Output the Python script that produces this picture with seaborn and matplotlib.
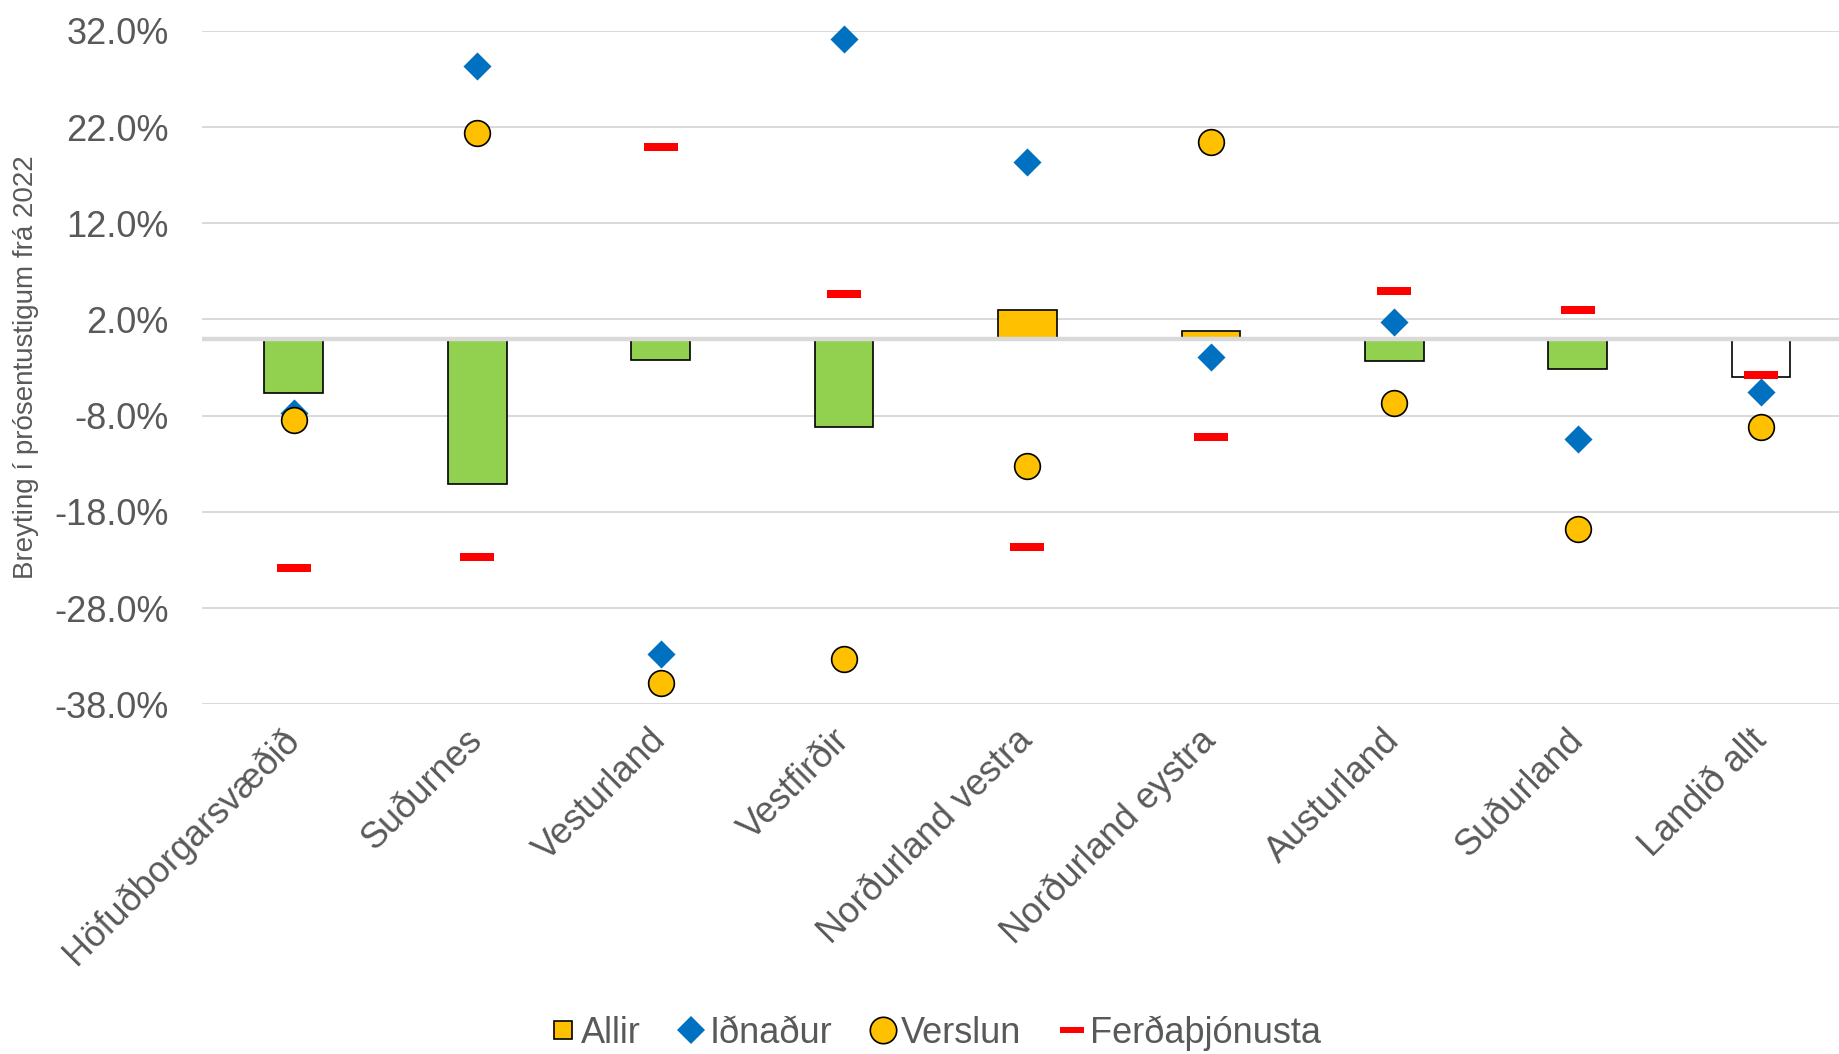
import numpy as np
import matplotlib
matplotlib.use('Agg')
import matplotlib.pyplot as plt
import seaborn as sns
from matplotlib.lines import Line2D

# Data (percentage points change from 2022)
regions = ['Höfuðborgarsvæðið', 'Suðurnes', 'Vesturland', 'Vestfirðir',
           'Norðurland vestra', 'Norðurland eystra', 'Austurland', 'Suðurland',
           'Landið allt']
allir = [-5.6, -15.1, -2.2, -9.2, 3.0, 0.8, -2.3, -3.1, -4.0]
idnadur = [-7.7, 28.3, -32.8, 31.2, 18.4, -1.9, 1.7, -10.4, -5.5]
verslun = [-8.4, 21.4, -35.8, -33.3, -13.2, 20.5, -6.7, -19.8, -9.2]
ferdathjonusta = [-23.8, -22.7, 19.9, 4.6, -21.6, -10.2, 5.0, 3.0, -3.8]
series_names = ['Allir', 'Iðnaður', 'Verslun', 'Ferðaþjónusta']
y_ticks = [-38, -28, -18, -8, 2, 12, 22, 32]

GREEN = '#92D050'
YELLOW = '#FFC000'
BLUE = '#0070C0'
RED = '#FF0000'
GREY_TXT = '#595959'
GRID = '#D9D9D9'

bar_colors = [GREEN, GREEN, GREEN, GREEN, YELLOW, YELLOW, GREEN, GREEN, 'white']

sns.set_style('white')
plt.rcParams['font.family'] = ['Liberation Sans', 'DejaVu Sans']

fig = plt.figure(figsize=(18.4, 10.54), dpi=100)
ax = fig.add_axes([0.1098, 0.3318, 0.8902, 0.6389])

# bars
sns.barplot(x=regions, y=allir, hue=regions, palette=bar_colors, legend=False,
            saturation=1, width=0.32, edgecolor='black', linewidth=1.2,
            ax=ax, zorder=2)

# dash marker as a filled flat rectangle
dash = [(-1, -0.25), (1, -0.25), (1, 0.25), (-1, 0.25)]
sns.stripplot(x=regions, y=idnadur, jitter=False, marker='D', size=14.3,
              color=BLUE, linewidth=0, ax=ax, zorder=4, clip_on=False)
sns.stripplot(x=regions, y=verslun, jitter=False, marker='o', size=18.5,
              color=YELLOW, edgecolor='black', linewidth=1.2, ax=ax, zorder=5,
              clip_on=False)
sns.stripplot(x=regions, y=ferdathjonusta, jitter=False, marker=dash, size=24.5,
              color=RED, linewidth=0, ax=ax, zorder=6, clip_on=False)

# zero line
ax.axhline(0, color=GRID, lw=3.2, zorder=3)

ax.set_ylim(-38, 32)
ax.set_xlim(-0.5, 8.43)
ax.set_yticks(y_ticks)
ax.set_yticklabels([f'{v:.1f}%' for v in y_ticks], fontsize=26, color=GREY_TXT)
ax.yaxis.grid(True, color=GRID, lw=1.4, zorder=0)
ax.set_axisbelow(True)
for s in ax.spines.values():
    s.set_visible(False)
ax.tick_params(axis='y', length=0, pad=24)
ax.tick_params(axis='x', length=0, pad=22)
ax.set_xticks(range(len(regions)))
ax.set_xticklabels(regions, rotation=45, ha='right', va='center',
                   rotation_mode='anchor', fontsize=26, color=GREY_TXT)
ax.set_xlabel('')
ax.set_ylabel('')

fig.text(0.014, 0.652, 'Breyting í prósentustigum frá 2022', rotation=90,
         ha='center', va='center', fontsize=20, color=GREY_TXT)

handles = [
    Line2D([], [], ls='none', marker='s', markersize=13.5, markerfacecolor=YELLOW,
           markeredgecolor='black', markeredgewidth=1.2),
    Line2D([], [], ls='none', marker='D', markersize=14, markerfacecolor=BLUE,
           markeredgewidth=0),
    Line2D([], [], ls='none', marker='o', markersize=19, markerfacecolor=YELLOW,
           markeredgecolor='black', markeredgewidth=1.2),
    Line2D([], [], ls='none', marker=dash, markersize=17, markerfacecolor=RED,
           markeredgewidth=0),
]
leg = fig.legend(handles, series_names, loc='center', bbox_to_anchor=(0.508, 0.02),
                 ncol=4, frameon=False, fontsize=26, handlelength=0.8,
                 handletextpad=0.1, columnspacing=1.0, labelcolor=GREY_TXT)

fig.savefig('out.png', dpi=100)
